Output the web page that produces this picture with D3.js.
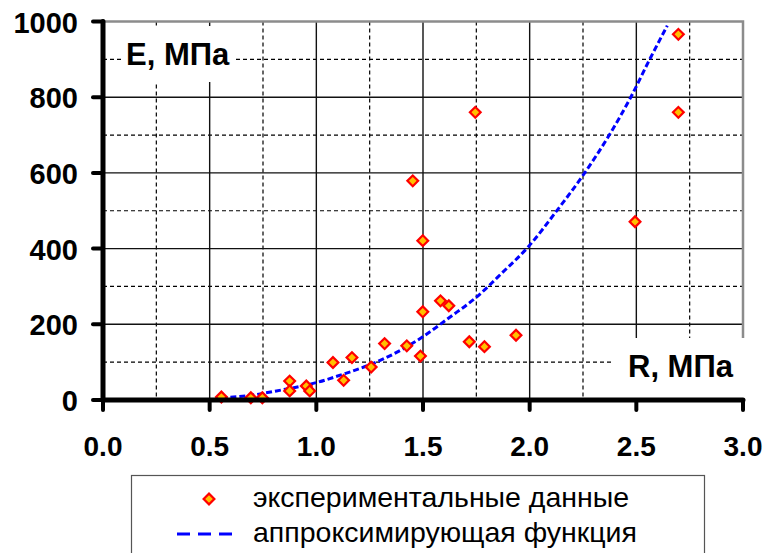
<!DOCTYPE html>
<html>
<head>
<meta charset="utf-8">
<script src="https://cdn.jsdelivr.net/npm/d3@7"></script>
<style>
  body { margin: 0; background: #fff; }
  svg { display: block; font-family: Arial, "Liberation Sans", sans-serif; }
</style>
</head>
<body>
<div id="chart"></div>
<script>
var expR = [0.555, 0.693, 0.747, 0.875, 0.875, 0.953, 0.969, 1.078, 1.128, 1.167, 1.257, 1.320, 1.424, 1.488,
            1.452, 1.499, 1.499, 1.582, 1.621, 1.717, 1.745, 1.788, 1.936, 2.494, 2.697, 2.697];
var expE = [8, 6, 6, 50, 24, 37, 24, 99, 52, 112, 87, 149, 143, 116,
            579, 421, 233, 262, 249, 154, 760, 141, 171, 471, 966, 760];

// approximating curve, points
var fitR = [0.555, 0.688, 0.813, 1.0, 1.125, 1.25, 1.374, 1.499, 1.624, 1.749, 1.873, 1.997, 2.123, 2.248, 2.373, 2.474, 2.56, 2.645];
var fitE = [6, 12, 24, 46, 68, 93, 125, 167, 218, 271, 337, 407, 497, 592, 700, 800, 897, 989];

var xTicks = [0, 0.5, 1.0, 1.5, 2.0, 2.5, 3.0];
var yTicks = [0, 200, 400, 600, 800, 1000];
var xMinor = [0.25, 0.75, 1.25, 1.75, 2.25, 2.75];
var yMinor = [100, 300, 500, 700, 900];

var legendLabels = ["экспериментальные данные", "аппроксимирующая функция"];

var W = 774, H = 553;
var svg = d3.select("#chart").append("svg")
    .attr("width", W)
    .attr("height", H);

var x = d3.scaleLinear().domain([0, 3]).range([103, 743]);
var y = d3.scaleLinear().domain([0, 1000]).range([400, 21.5]);

// grid - dashed minor lines first, then solid major lines
var grid = svg.append("g");
grid.selectAll(".vminor").data(xMinor).enter().append("line")
    .attr("x1", function(d) { return x(d); }).attr("x2", function(d) { return x(d); })
    .attr("y1", y(1000)).attr("y2", y(0))
    .attr("stroke", "#000").attr("stroke-width", 1.2).attr("stroke-dasharray", "4,3");
grid.selectAll(".hminor").data(yMinor).enter().append("line")
    .attr("x1", x(0)).attr("x2", x(3))
    .attr("y1", function(d) { return y(d); }).attr("y2", function(d) { return y(d); })
    .attr("stroke", "#000").attr("stroke-width", 1.2).attr("stroke-dasharray", "4,3");
grid.selectAll(".vmajor").data(xTicks.slice(1, -1)).enter().append("line")
    .attr("x1", function(d) { return x(d); }).attr("x2", function(d) { return x(d); })
    .attr("y1", y(1000)).attr("y2", y(0))
    .attr("stroke", "#111").attr("stroke-width", 1.4);
grid.selectAll(".hmajor").data(yTicks.slice(1, -1)).enter().append("line")
    .attr("x1", x(0)).attr("x2", x(3))
    .attr("y1", function(d) { return y(d); }).attr("y2", function(d) { return y(d); })
    .attr("stroke", "#111").attr("stroke-width", 1.4);

// gray frame on top and right
svg.append("path")
    .attr("d", "M" + x(0) + "," + y(1000) + "H" + x(3) + "V" + y(0))
    .attr("fill", "none").attr("stroke", "#8c8c8c").attr("stroke-width", 2.5);

// axis titles on white boxes
function boxedLabel(txt, tx, ty, padX, padTop, padBot) {
    var g = svg.append("g");
    var r = g.append("rect").attr("fill", "#fff");
    var t = g.append("text")
        .attr("x", tx).attr("y", ty)
        .attr("font-size", 31).attr("font-weight", "bold")
        .text(txt);
    var b = t.node().getBBox();
    r.attr("x", b.x - padX).attr("y", b.y - padTop)
     .attr("width", b.width + 2 * padX).attr("height", b.height + padTop + padBot);
}
boxedLabel("E, МПа", 126, 65, 4, 11, 10);
boxedLabel("R, МПа", 628, 377, 15, 11, 22);

// approximating curve
var line = d3.line()
    .x(function(d) { return x(d[0]); })
    .y(function(d) { return y(d[1]); })
    .curve(d3.curveMonotoneX);
svg.append("path")
    .datum(d3.zip(fitR, fitE))
    .attr("d", line)
    .attr("fill", "none")
    .attr("stroke", "#0000ff")
    .attr("stroke-width", 3)
    .attr("stroke-dasharray", "6,3");

// experimental points - diamonds
var diamond = d3.symbol().type(d3.symbolSquare).size(58);
svg.selectAll(".pt").data(d3.zip(expR, expE)).enter().append("path")
    .attr("class", "pt")
    .attr("d", diamond)
    .attr("transform", function(d) { return "translate(" + x(d[0]) + "," + y(d[1]) + ") rotate(45)"; })
    .attr("fill", "#ffc000")
    .attr("stroke", "#ff0000")
    .attr("stroke-width", 2.2);

// axes - thick black lines with short outward ticks
var axes = svg.append("g").attr("stroke", "#000").attr("stroke-linecap", "round");
axes.append("line").attr("x1", x(0)).attr("x2", x(0)).attr("y1", y(1000)).attr("y2", y(0)).attr("stroke-width", 5);
axes.append("line").attr("x1", x(0)).attr("x2", x(3)).attr("y1", y(0)).attr("y2", y(0)).attr("stroke-width", 5);
axes.selectAll(".yt").data(yTicks).enter().append("line")
    .attr("x1", x(0) - 10).attr("x2", x(0))
    .attr("y1", function(d) { return y(d); }).attr("y2", function(d) { return y(d); })
    .attr("stroke-width", 4);
axes.selectAll(".xt").data(xTicks).enter().append("line")
    .attr("x1", function(d) { return x(d); }).attr("x2", function(d) { return x(d); })
    .attr("y1", y(0)).attr("y2", y(0) + 10)
    .attr("stroke-width", 4);

svg.selectAll(".ylab").data(yTicks).enter().append("text")
    .attr("x", 78)
    .attr("y", function(d) { return y(d) + 11; })
    .attr("text-anchor", "end")
    .attr("font-size", 29).attr("font-weight", "bold")
    .text(function(d) { return d; });

svg.selectAll(".xlab").data(xTicks).enter().append("text")
    .attr("x", function(d) { return x(d); })
    .attr("y", 456)
    .attr("text-anchor", "middle")
    .attr("font-size", 28).attr("font-weight", "bold")
    .text(function(d) { return d.toFixed(1); });

// legend box
var lg = svg.append("g");
lg.append("rect")
    .attr("x", 131.5).attr("y", 475.5)
    .attr("width", 573).attr("height", 90)
    .attr("fill", "#fff").attr("stroke", "#555").attr("stroke-width", 1.2);
lg.append("path")
    .attr("d", diamond)
    .attr("transform", "translate(209,499) rotate(45)")
    .attr("fill", "#ffc000").attr("stroke", "#ff0000").attr("stroke-width", 2.2);
lg.append("line")
    .attr("x1", 177).attr("x2", 240).attr("y1", 534).attr("y2", 534)
    .attr("stroke", "#0000ff").attr("stroke-width", 3).attr("stroke-dasharray", "13,8");
lg.selectAll(".lt").data(legendLabels).enter().append("text")
    .attr("x", 253)
    .attr("y", function(d, i) { return 507 + i * 35; })
    .attr("font-size", 28.5)
    .text(function(d) { return d; });
</script>
</body>
</html>
